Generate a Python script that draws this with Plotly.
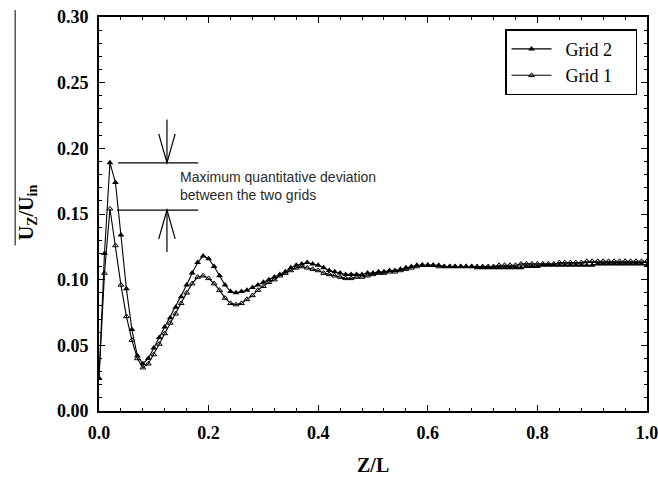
import plotly.graph_objects as go

# Axial position along the channel (Z/L)
z_over_l = [round(i * 0.01, 2) for i in range(101)]

# Normalised axial velocity U_Z/U_in, fine grid
grid2 = [
    0.025, 0.120, 0.189, 0.174, 0.134, 0.093, 0.062, 0.042, 0.036, 0.040,
    0.048, 0.056, 0.064, 0.071, 0.079, 0.087, 0.096, 0.105, 0.113, 0.118,
    0.116, 0.110, 0.103, 0.096, 0.091, 0.090, 0.091, 0.092, 0.094, 0.096,
    0.098, 0.100, 0.102, 0.104, 0.106, 0.109, 0.111, 0.112, 0.113, 0.112,
    0.111, 0.109, 0.107, 0.106, 0.105, 0.104, 0.104, 0.104, 0.104, 0.105,
    0.105, 0.106, 0.106, 0.107, 0.107, 0.108, 0.109, 0.110, 0.111, 0.111,
    0.111, 0.111, 0.111, 0.110, 0.110, 0.110, 0.110, 0.110, 0.110, 0.109,
    0.109, 0.109, 0.109, 0.109, 0.109, 0.109, 0.109, 0.109, 0.110, 0.110,
    0.110, 0.111, 0.111, 0.111, 0.111, 0.111, 0.111, 0.111, 0.111, 0.111,
    0.111, 0.112, 0.112, 0.112, 0.112, 0.112, 0.112, 0.112, 0.112, 0.112,
    0.111,
]

# Normalised axial velocity U_Z/U_in, coarse grid
grid1 = [
    0.025, 0.105, 0.154, 0.126, 0.096, 0.072, 0.054, 0.040, 0.033, 0.036,
    0.043, 0.051, 0.059, 0.067, 0.074, 0.082, 0.090, 0.097, 0.102, 0.103,
    0.101, 0.097, 0.092, 0.086, 0.082, 0.081, 0.082, 0.085, 0.088, 0.092,
    0.095, 0.098, 0.100, 0.103, 0.105, 0.107, 0.109, 0.110, 0.109, 0.108,
    0.107, 0.105, 0.104, 0.103, 0.102, 0.101, 0.101, 0.102, 0.102, 0.103,
    0.104, 0.105, 0.105, 0.106, 0.106, 0.107, 0.108, 0.109, 0.110, 0.111,
    0.111, 0.111, 0.110, 0.110, 0.110, 0.110, 0.110, 0.110, 0.110, 0.110,
    0.110, 0.110, 0.110, 0.111, 0.111, 0.111, 0.111, 0.112, 0.112, 0.112,
    0.112, 0.112, 0.112, 0.112, 0.113, 0.113, 0.113, 0.113, 0.113, 0.114,
    0.114, 0.114, 0.114, 0.114, 0.114, 0.114, 0.114, 0.114, 0.114, 0.114,
    0.114,
]

x_ticks = [0.0, 0.2, 0.4, 0.6, 0.8, 1.0]
y_ticks = [0.00, 0.05, 0.10, 0.15, 0.20, 0.25, 0.30]

SERIF = "Liberation Serif"
SANS = "Liberation Sans"
LEAD = "\u00a0\u00a0"
PAD = "\u00a0" * 4

fig = go.Figure()
fig.add_trace(go.Scatter(
    x=z_over_l, y=grid2, name=LEAD + "Grid 2" + PAD, mode="lines+markers",
    line=dict(color="black", width=1.1),
    marker=dict(symbol="triangle-up", size=6, color="black"),
))
fig.add_trace(go.Scatter(
    x=z_over_l, y=grid1, name=LEAD + "Grid 1" + PAD, mode="lines+markers",
    line=dict(color="black", width=1.1),
    marker=dict(symbol="triangle-up-open", size=5, color="black",
                line=dict(width=1)),
))

axis_common = dict(
    showline=True, linecolor="black", linewidth=1.6, mirror="allticks",
    ticks="inside", ticklen=6, tickwidth=1.4, tickcolor="black",
    showgrid=False, zeroline=False, automargin=False,
    ticklabeloverflow="allow",
    tickfont=dict(family=SERIF, size=18, color="black"),
    ticklabelstandoff=5,
)

fig.update_xaxes(
    range=[0, 1.0], tickvals=x_ticks,
    ticktext=[f"<b>{v:.1f}</b>" for v in x_ticks],
    minor=dict(dtick=0.04, ticks="inside", ticklen=3, tickwidth=1.2,
               tickcolor="black", showgrid=False),
    **axis_common,
)
fig.update_yaxes(
    range=[0, 0.30], tickvals=y_ticks,
    ticktext=[f"<b>{v:.2f}</b>" for v in y_ticks],
    minor=dict(dtick=0.01, ticks="inside", ticklen=3, tickwidth=1.2,
               tickcolor="black", showgrid=False),
    **axis_common,
)

line_style = dict(color="black", width=1.2)
shapes = [
    # reference levels of the two peaks
    dict(type="line", xref="x", yref="y", x0=0.035, x1=0.181, y0=0.189, y1=0.189, line=line_style),
    dict(type="line", xref="x", yref="y", x0=0.033, x1=0.181, y0=0.153, y1=0.153, line=line_style),
    # downward arrow onto the upper level
    dict(type="line", xref="x", yref="y", x0=0.124, x1=0.124, y0=0.222, y1=0.189, line=line_style),
    dict(type="path", xref="x", yref="y",
         path="M 0.109,0.211 L 0.124,0.189 L 0.139,0.211", line=line_style),
    # upward arrow onto the lower level
    dict(type="line", xref="x", yref="y", x0=0.124, x1=0.124, y0=0.121, y1=0.153, line=line_style),
    dict(type="path", xref="x", yref="y",
         path="M 0.109,0.131 L 0.124,0.153 L 0.139,0.131", line=line_style),
    # page edge rule at the left
    dict(type="line", xref="paper", yref="paper", x0=-0.153, x1=-0.153,
         y0=1.018, y1=0.42, line=dict(color="black", width=1)),
]

annotations = [
    dict(xref="x", yref="y", x=0.144, y=0.171, xanchor="left", yanchor="middle",
         text="Maximum quantitative deviation<br>between the two grids",
         align="left", showarrow=False,
         font=dict(family=SANS, size=14, color="#2a2a2a")),
    dict(xref="paper", yref="paper", x=-0.131, y=0.505, textangle=-90,
         xanchor="center", yanchor="middle", showarrow=False,
         text="<b>U<sub>Z</sub>/U<sub>in</sub></b>",
         font=dict(family=SERIF, size=20, color="black")),
    dict(xref="paper", yref="paper", x=0.5, y=-0.137,
         xanchor="center", yanchor="middle", showarrow=False,
         text="<b>Z/L</b>",
         font=dict(family=SERIF, size=20, color="black")),
]

fig.update_layout(
    width=658, height=480,
    margin=dict(l=99, r=11, t=17, b=69),
    paper_bgcolor="white", plot_bgcolor="white",
    font=dict(family=SERIF, color="black"),
    showlegend=True,
    legend=dict(
        x=0.741, y=0.969, xanchor="left", yanchor="top",
        bgcolor="white", bordercolor="black", borderwidth=1.5,
        font=dict(family=SERIF, size=18, color="black"),
        tracegroupgap=0, itemwidth=40,
    ),
    shapes=shapes,
    annotations=annotations,
)

fig.write_html("out.html")
